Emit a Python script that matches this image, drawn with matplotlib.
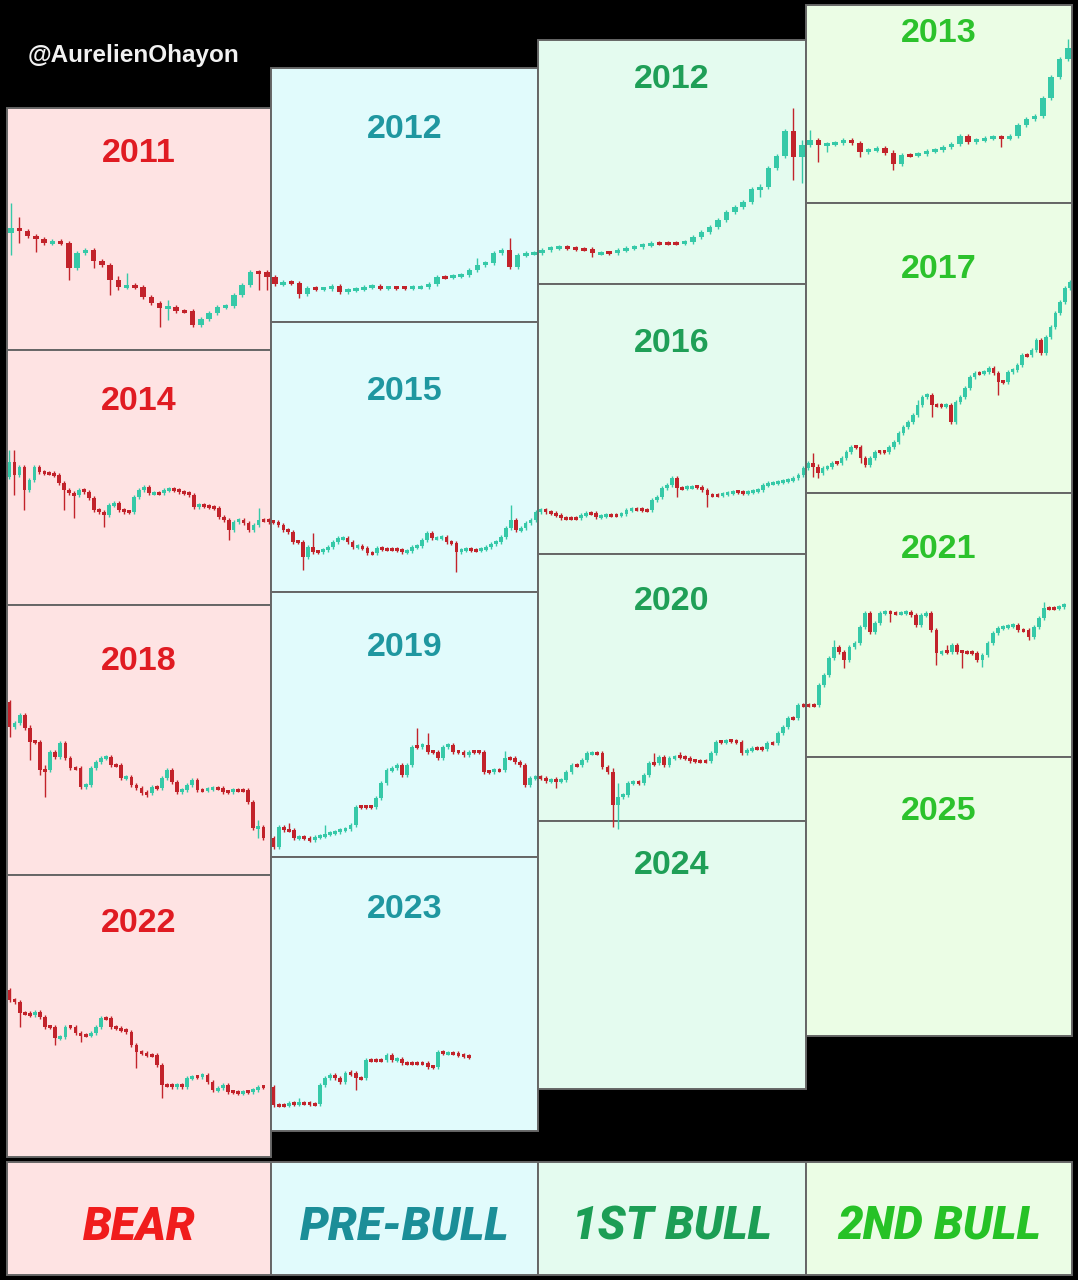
import numpy as np
import matplotlib
matplotlib.use("Agg")
import matplotlib.pyplot as plt
from matplotlib.patches import Rectangle

# ---------------- DATA (price level; smaller = higher) ----------------
# Row 1 : 2011 | 2012 | 2012 | 2013
open_2011 = 233
close_2011 = [228, 231, 236, 239, 243, 241, 243, 268, 253, 250, 261, 265, 280, 287, 285, 287,
              297, 303, 308, 307, 311, 311, 325, 319, 313, 307, 306, 295, 285, 272, 272, 277]
wick_2011 = {0: (203, 255), 1: (217, 243), 3: (236, 252), 7: (243, 280), 10: (252, 268),
             12: (265, 295), 13: (276, 290), 14: (273, 288), 18: (302, 327), 19: (300, 320),
             22: (310, 327), 30: (270, 290), 31: (270, 290)}
close_2012a = [284, 282, 282.7, 294, 288.3, 289, 288.7, 286, 291.7, 290, 289.3, 287.3, 286, 288,
               287.7, 287.7, 287.7, 287.3, 286.7, 284.3, 277.3, 277.3, 276, 274.7, 270, 265, 262.7,
               252.7, 250, 266.7, 255, 253.3, 252.7]
wick_2012a = {3: (281, 298), 25: (258, 270), 29: (238, 268)}
close_2012b = [250, 247.7, 247, 248.3, 249.3, 249.3, 253.3, 252.7, 252.7, 250, 248.3, 246.7, 245,
               243.3, 243.3, 243.3, 243.3, 241.7, 236.7, 231.7, 226.7, 220, 211.7, 206.7, 201.7,
               189.3, 186.7, 168.3, 156, 130.7, 156.7, 145]
wick_2012b = {6: (247, 257), 26: (184, 197), 30: (108, 180), 31: (140, 183)}
close_2013 = [140, 145, 144, 143.3, 140, 142.7, 151.7, 150, 148.3, 153.3, 164, 155, 155, 154, 150.7,
              150, 147.3, 144, 136, 141.7, 140, 138.3, 137.3, 138.3, 136, 125, 119.3, 116, 98.3,
              77.3, 59.3, 48.3]
wick_2013 = {0: (130, 146), 1: (139, 162), 2: (142, 152), 6: (141, 157), 10: (150, 170),
             23: (136, 147), 31: (39, 60)}

# Row 2 : 2014 | 2015 | 2016 | 2017
open_2014 = 476.7
close_2014 = [461.7, 475, 466.7, 490, 480, 466.7, 471.7, 472.7, 473.3, 475, 483.3, 490, 493.3, 495,
              490, 491.7, 498.3, 510, 511.7, 515, 505, 503.3, 510, 511.7, 511.7, 496.7, 490, 486.7,
              493.3, 492.7, 493.3, 490, 489.3, 490, 491.7, 492.7, 495, 506.7, 505, 506, 506.7,
              508.3, 516.7, 520, 530, 521.7, 520, 523.3, 530, 525, 520, 520, 521.7]
wick_2014 = {0: (450, 478), 1: (450, 495), 3: (466, 510), 11: (482, 510), 13: (492, 518),
             19: (510, 527), 44: (518, 540), 50: (508, 524)}
close_2015 = [521.7, 525, 530, 531.7, 541.7, 541.7, 556.7, 546.7, 551.7, 551.7, 550, 546.7, 541.7,
              538.3, 537.7, 541.7, 546.7, 546, 548.3, 553.3, 553.3, 548.3, 549, 549, 549.3, 550,
              551.7, 551, 546.7, 546, 540, 533.3, 538.3, 537.7, 537.3, 541.7, 543.3, 551.7, 550,
              549.3, 550, 550, 549.3, 546.7, 544, 541.7, 536.7, 528.3, 520, 530, 528.3, 523.3,
              520, 511.7]
wick_2015 = {6: (540, 570), 8: (533, 553), 37: (541, 572), 48: (505, 530)}
close_2016 = [510, 511.7, 513.3, 515, 518.3, 518.3, 518.3, 518.3, 515, 513.3, 513.3, 516.7, 516,
              515, 515, 515, 514.3, 510, 509.3, 509.3, 510, 510, 500, 496.7, 488.3, 485, 478.3,
              488.3, 488.3, 487.3, 486.7, 486.7, 490, 495, 495, 495, 494.3, 492.7, 491.7, 491.7,
              492.7, 491.7, 491, 490, 485, 483.3, 482.7, 481.7, 481, 480, 478.3, 475, 468.3]
wick_2016 = {27: (476, 497), 33: (488, 507)}
close_2017 = [463.3, 466.7, 473.3, 468.3, 466.7, 462.7, 462.7, 458.3, 451.7, 446.7, 446.7, 458.3,
              465, 458.3, 451.7, 451.7, 451.7, 446.7, 441.7, 433.3, 426.7, 421.7, 415, 405, 396.7,
              395, 405, 405, 406, 405, 421.7, 401.7, 396.7, 388.3, 376.7, 373.3, 373.3, 371.7,
              368.3, 373.3, 381.7, 381.7, 371.7, 370, 365, 355, 355, 350, 340, 353.3, 336.7,
              326.7, 313.3, 301.7, 288.3, 281.7]
wick_2017 = {1: (453, 477), 2: (464, 478), 11: (445, 463), 23: (400, 416), 26: (394, 417),
             40: (371, 395), 55: (280, 290)}

# Row 3 : 2018 | 2019 | 2020 | 2021
open_2018 = 701.7
close_2018 = [726.7, 723.3, 715, 728.3, 741.7, 741.7, 770, 770, 751.7, 756.7, 743.3, 758.3, 768.3,
              768.3, 786.7, 785, 768.3, 761.7, 758.3, 756.7, 765, 765, 778.3, 776.7, 785, 788.3,
              793.3, 793.3, 786.7, 788.3, 778.3, 770, 781.7, 791.7, 790, 785, 780, 790, 790, 789.3,
              788.3, 788.3, 791.7, 791.7, 790, 790, 790, 801.7, 828.3, 826.7, 838.3]
wick_2018 = {0: (700, 737), 4: (725, 760), 6: (740, 775), 7: (765, 797), 27: (790, 797),
             49: (820, 838)}
close_2019 = [846.7, 826.7, 830, 830, 838.3, 836.7, 838.3, 840, 836.7, 836, 834, 832.7, 831.7, 830,
              829.3, 825, 806.7, 806.7, 806.7, 806.7, 798.3, 783.3, 770, 768.3, 765, 775, 765,
              746.7, 746.7, 745, 751.7, 751.7, 758.3, 746.7, 745, 751.7, 751.7, 755, 751.7, 751.7,
              751.7, 771.7, 771.7, 770, 770, 758.3, 758.3, 761.7, 765, 785, 778.3, 776.7]
wick_2019 = {0: (836, 848), 3: (823, 832), 10: (825, 836), 28: (728, 749), 30: (733, 753),
             45: (751, 771)}
close_2020 = [778.3, 780.7, 780, 780.7, 780, 771.7, 765, 765, 760, 753.3, 752.7, 753.3, 766.7,
              771.7, 805, 796.7, 795, 783.3, 781.7, 783.3, 775, 763.3, 763.3, 756.7, 765, 758.3,
              756.7, 756.7, 758.3, 760.7, 761, 761, 761, 753.3, 741.7, 741.7, 740.7, 740.7, 741.7,
              753.3, 750, 748.3, 748.3, 749.3, 743.3, 743.3, 733.3, 726.7, 718.3, 718.3, 705, 705]
wick_2020 = {3: (777, 788), 14: (768, 827), 15: (783, 829), 22: (753, 766), 27: (752, 759)}
close_2021 = [705, 705, 685, 675, 658.3, 646.7, 651.7, 660, 646.7, 643.3, 626.7, 613.3, 631.7,
              623.3, 613.3, 611.7, 613.3, 613.3, 612.7, 611.7, 615, 625, 615, 613.3, 630, 653.3,
              651.7, 651.7, 645, 651.7, 651.7, 652.3, 653.3, 660, 655, 643.3, 633.3, 628.3, 627.3,
              626, 625, 630, 630, 636.7, 626.7, 618.3, 608.3, 608.3, 608.3, 606.7, 605]
wick_2021 = {5: (640, 660), 7: (650, 668), 16: (611, 622), 25: (628, 665), 27: (645, 653),
             30: (650, 668), 34: (654, 667), 43: (628, 640), 46: (602, 620)}

# Row 4 : 2022 | 2023
open_2022 = 990
close_2022 = [1000, 1001.7, 1013.3, 1013.3, 1015, 1011.7, 1016.7, 1026.7, 1026.7, 1038.3, 1036.7,
              1026.7, 1026.7, 1033.3, 1035, 1035, 1033.3, 1026.7, 1018.3, 1018.3, 1026.7, 1028.3,
              1030, 1031.7, 1045, 1051.7, 1053.3, 1055, 1055, 1065, 1085, 1085, 1086.7, 1085,
              1086.7, 1078.3, 1076.7, 1076.7, 1075, 1081.7, 1090, 1088.3, 1085, 1091.7, 1091.7,
              1093.3, 1091.7, 1091.7, 1090, 1086.7, 1086.7]
wick_2022 = {2: (1000, 1027), 9: (1025, 1045), 14: (1033, 1042), 25: (1045, 1068), 30: (1064, 1098)}
close_2023 = [1105, 1105, 1105, 1103.3, 1104, 1102.7, 1103.3, 1104, 1104, 1085, 1078.3, 1075,
              1078.3, 1081.7, 1073.3, 1073.3, 1078.3, 1078.3, 1060, 1060, 1060, 1060, 1055, 1060,
              1059.3, 1063.3, 1063.3, 1063.3, 1063.3, 1063.3, 1066.7, 1066.7, 1051.7, 1053.3,
              1052.7, 1053.3, 1055, 1056, 1056.7]
wick_2023 = {5: (1098, 1106), 15: (1070, 1076), 16: (1072, 1090)}

# Labels
phase_labels = ["BEAR", "PRE-BULL", "1ST BULL", "2ND BULL"]
year_titles = [["2011", "2014", "2018", "2022"],
               ["2012", "2015", "2019", "2023"],
               ["2012", "2016", "2020", "2024"],
               ["2013", "2017", "2021", "2025"]]
handle = "@AurelienOhayon"

# ---------------- LAYOUT / STYLE ----------------
W, H = 1078, 1280
col_edges = [7, 271, 538, 806, 1072]
panel_edges = [[108, 350, 605, 875, 1157],
               [68, 322, 592, 857, 1131],
               [40, 284, 554, 821, 1089],
               [5, 203, 493, 757, 1036]]
title_y = [[149, 397, 658, 920],
           [125, 387, 643, 906],
           [76, 339, 598, 862],
           [30, 265, 545, 807]]
bg_colors = ["#fee3e3", "#e1fbfc", "#e4fbef", "#ebfde5"]
text_colors = ["#e01b22", "#1f97a0", "#1f9f57", "#2cc22c"]
label_colors = ["#f01c1c", "#1b8e98", "#1c9e55", "#26c226"]
border = "#666666"
GREEN = "#36c9a8"
RED = "#c2232b"

fig = plt.figure(figsize=(W / 100, H / 100), dpi=100, facecolor="black")
ax = fig.add_axes([0, 0, 1, 1])
ax.set_xlim(0, W)
ax.set_ylim(H, 0)
ax.axis("off")
ax.set_facecolor("black")

# panels
for c in range(4):
    x0, x1 = col_edges[c], col_edges[c + 1]
    for r in range(4):
        y0, y1 = panel_edges[c][r], panel_edges[c][r + 1]
        ax.add_patch(Rectangle((x0, y0), x1 - x0, y1 - y0, facecolor=bg_colors[c],
                               edgecolor=border, lw=1.4, zorder=1))
        ax.text((x0 + x1) / 2, title_y[c][r] + 12.5, year_titles[c][r],
                ha="center", va="baseline", fontsize=24.5, fontweight="bold",
                family=["Liberation Sans", "DejaVu Sans"], color=text_colors[c], zorder=2)
    # bottom phase boxes
    ax.add_patch(Rectangle((x0, 1162), x1 - x0, 113, facecolor=bg_colors[c],
                           edgecolor=border, lw=1.4, zorder=1))
    ax.text((x0 + x1) / 2, 1240, phase_labels[c], ha="center", va="baseline",
            fontsize=33, fontweight="black", fontstyle="italic",
            family=["Roboto", "Liberation Sans", "DejaVu Sans"], color=label_colors[c], zorder=2)

ax.text(28, 62, handle, ha="left", va="baseline", fontsize=17.5, fontweight="bold",
        family=["Liberation Sans", "DejaVu Sans"], color="#f2f2f2", zorder=2)

rows = [
    dict(open0=open_2011, slots=32, frac=0.66,
         years=[(0, close_2011, wick_2011), (1, close_2012a, wick_2012a),
                (2, close_2012b, wick_2012b), (3, close_2013, wick_2013)]),
    dict(open0=open_2014, slots=52, frac=0.74,
         years=[(0, close_2014, wick_2014), (1, close_2015, wick_2015),
                (2, close_2016, wick_2016), (3, close_2017, wick_2017)]),
    dict(open0=open_2018, slots=52, frac=0.74,
         years=[(0, close_2018, wick_2018), (1, close_2019, wick_2019),
                (2, close_2020, wick_2020), (3, close_2021, wick_2021)]),
    dict(open0=open_2022, slots=52, frac=0.74,
         years=[(0, close_2022, wick_2022), (1, close_2023, wick_2023)]),
]

for row in rows:
    prev = row["open0"]
    for col, closes, wicks in row["years"]:
        c = np.asarray(closes, dtype=float)
        n = len(c)
        slots = max(n, row["slots"])
        left, right = col_edges[col], col_edges[col + 1]
        step = (right - left) / slots
        x = left + (np.arange(n) + 0.5) * step
        o = np.concatenate([[prev], c[:-1]])
        prev = c[-1]
        top = np.minimum(o, c)
        bot = np.maximum(o, c)
        h = np.maximum(bot - top, 3.0)
        mid = (top + bot) / 2
        hi = top - 2.0
        lo = bot + 2.0
        for k, (a, b) in wicks.items():
            hi[k] = min(hi[k], a)
            lo[k] = max(lo[k], b)
        cols = np.where(c < o, GREEN, RED)
        ax.vlines(x, hi, lo, colors=cols, lw=1.0, zorder=4)
        ax.bar(x, h, bottom=mid - h / 2, width=step * row["frac"], color=cols,
               linewidth=0, zorder=5)

fig.savefig("out.png", dpi=100, facecolor="black")
